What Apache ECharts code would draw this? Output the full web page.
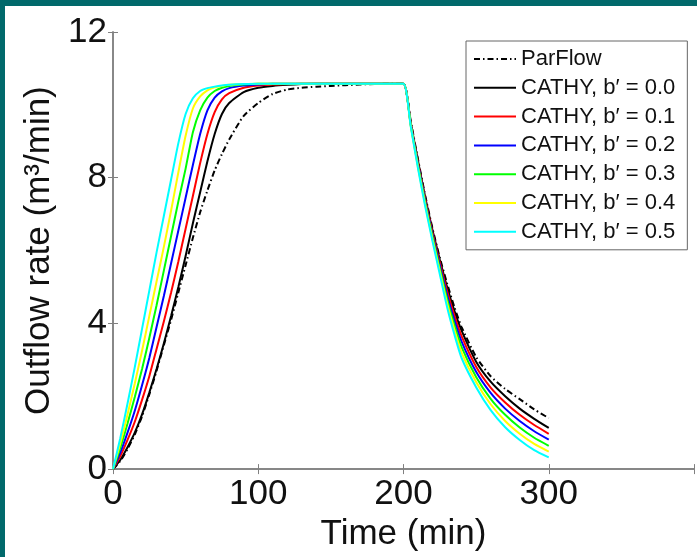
<!DOCTYPE html>
<html><head><meta charset="utf-8">
<script src="https://cdn.jsdelivr.net/npm/echarts@6/dist/echarts.min.js"></script>
<style>
html,body{margin:0;padding:0;background:#01696b;width:697px;height:557px;overflow:hidden}
#chart{position:absolute;left:5px;top:6px;width:692px;height:551px;background:#fff}
</style></head><body><div id="chart"></div>
<script>
// Time samples (min)
const time = [0,5,10,15,20,25,30,35,40,45,50,55,60,65,70,75,80,90,100,110,120,130,140,150,160,170,180,190,200,205,210,215,220,225,230,235,240,250,260,270,280,290,300];

const parflow = [0,0.22,0.55,0.95,1.45,2.05,2.7,3.4,4.1,4.85,5.6,6.35,7.05,7.65,8.2,8.65,9.05,
  9.7,10.05,10.3,10.42,10.47,10.5,10.52,10.54,10.56,10.57,10.58,
  10.58,9.55,8.5,7.5,6.6,5.8,5.1,4.45,3.9,
  3.08,2.55,2.2,1.92,1.64,1.40];
const cathy00 = [0,0.25,0.6,1.0,1.5,2.1,2.75,3.45,4.2,5.0,5.85,6.75,7.6,8.45,9.2,9.75,10.05,
  10.35,10.47,10.52,10.55,10.57,10.58,10.58,10.58,10.58,10.58,10.58,
  10.58,9.5,8.45,7.45,6.55,5.75,5.0,4.35,3.8,
  2.95,2.4,2.0,1.66,1.38,1.13];
const cathy01 = [0,0.35,0.8,1.3,1.9,2.55,3.3,4.05,4.85,5.7,6.6,7.5,8.4,9.2,9.8,10.15,10.32,
  10.47,10.53,10.56,10.57,10.58,10.58,10.58,10.58,10.58,10.58,10.58,
  10.58,9.48,8.41,7.40,6.49,5.67,4.89,4.22,3.65,
  2.81,2.24,1.83,1.49,1.21,0.97];
const cathy02 = [0,0.45,1.0,1.6,2.3,3.05,3.9,4.75,5.65,6.55,7.45,8.35,9.2,9.85,10.2,10.37,10.46,
  10.53,10.56,10.58,10.58,10.58,10.58,10.58,10.58,10.58,10.58,10.58,
  10.58,9.46,8.37,7.35,6.43,5.59,4.78,4.09,3.5,
  2.67,2.09,1.66,1.32,1.04,0.81];
const cathy03 = [0,0.58,1.25,1.98,2.75,3.6,4.5,5.45,6.4,7.35,8.25,9.25,9.85,10.2,10.38,10.47,10.52,
  10.56,10.58,10.58,10.58,10.58,10.58,10.58,10.58,10.58,10.58,10.58,
  10.58,9.44,8.33,7.3,6.37,5.51,4.67,3.96,3.35,
  2.53,1.93,1.49,1.14,0.86,0.64];
const cathy04 = [0,0.7,1.5,2.35,3.25,4.2,5.15,6.1,7.1,8.15,9.15,9.9,10.23,10.4,10.48,10.52,10.55,
  10.57,10.58,10.58,10.58,10.58,10.58,10.58,10.58,10.58,10.58,10.58,
  10.58,9.42,8.29,7.25,6.31,5.43,4.56,3.83,3.2,
  2.39,1.78,1.32,0.97,0.69,0.48];
const cathy05 = [0,0.85,1.8,2.8,3.85,4.9,5.95,6.95,7.95,8.95,9.75,10.18,10.38,10.46,10.5,10.53,10.55,
  10.57,10.58,10.58,10.58,10.58,10.58,10.58,10.58,10.58,10.58,10.58,
  10.58,9.4,8.25,7.2,6.25,5.35,4.45,3.7,3.05,
  2.25,1.62,1.15,0.8,0.52,0.32];

const seriesNames = ['ParFlow','CATHY, b\u2032 = 0.0','CATHY, b\u2032 = 0.1','CATHY, b\u2032 = 0.2','CATHY, b\u2032 = 0.3','CATHY, b\u2032 = 0.4','CATHY, b\u2032 = 0.5'];
const seriesValues = [parflow, cathy00, cathy01, cathy02, cathy03, cathy04, cathy05];
const seriesColors = ['#000000','#000000','#ff0000','#0000ff','#00ff00','#ffff00','#00ffff'];

const xTickLabels = [0,100,200,300];
const yTickLabels = [0,4,8,12];

const FONT = 'Liberation Sans, Arial, sans-serif';
const axisGray = '#808080';

const chart = echarts.init(document.getElementById('chart'));
const series = seriesValues.map((vals, i) => ({
  name: seriesNames[i],
  type: 'line',
  data: time.map((t, j) => [t, vals[j]]),
  showSymbol: false,
  symbol: 'none',
  smooth: 0.2,
  animation: false,
  lineStyle: {
    color: seriesColors[i],
    width: 2,
    type: i === 0 ? [6, 3, 1.5, 3] : 'solid'
  },
  itemStyle: { color: seriesColors[i], opacity: 0 }
}));

const boxAxisCommon = {
  axisLine: { show: true, lineStyle: { color: axisGray, width: 1.5 } },
  axisTick: { show: true, inside: true, length: 5, lineStyle: { color: axisGray, width: 1 } },
  splitLine: { show: false }
};

chart.setOption({
  animation: false,
  backgroundColor: '#ffffff',
  grid: { left: 108, top: 26, right: 1, bottom: 80, containLabel: false },
  legend: {
    orient: 'vertical',
    left: 461, top: 35,
    data: seriesNames,
    itemWidth: 42, itemHeight: 20, itemGap: 6.8,
    padding: [7, 12, 7, 7],
    backgroundColor: '#ffffff',
    borderColor: '#666666', borderWidth: 1, borderRadius: 0,
    itemStyle: { opacity: 0 },
    textStyle: { fontFamily: FONT, fontSize: 22, color: '#111', lineHeight: 20 }
  },
  xAxis: [
    Object.assign({
      type: 'value', min: 0, max: 400, interval: 100, position: 'bottom',
      name: 'Time (min)', nameLocation: 'middle', nameGap: 44,
      nameTextStyle: { fontFamily: FONT, fontSize: 35, color: '#111' },
      axisLabel: {
        fontFamily: FONT, fontSize: 35, color: '#111', margin: 8,
        formatter: v => xTickLabels.includes(v) ? String(v) : ''
      }
    }, boxAxisCommon),
    Object.assign({
      type: 'value', min: 0, max: 400, interval: 100, position: 'top',
      axisLabel: { show: false }
    }, boxAxisCommon)
  ],
  yAxis: [
    Object.assign({
      type: 'value', min: 0, max: 12, interval: 4, position: 'left',
      name: 'Outflow rate (m\u00b3/min)', nameLocation: 'middle', nameGap: 53, nameRotate: 90,
      nameTextStyle: { fontFamily: FONT, fontSize: 35, color: '#111' },
      axisLabel: {
        fontFamily: FONT, fontSize: 35, color: '#111', margin: 6,
        formatter: v => yTickLabels.includes(v) ? String(v) : ''
      }
    }, boxAxisCommon),
    Object.assign({
      type: 'value', min: 0, max: 12, interval: 4, position: 'right',
      axisLabel: { show: false }
    }, boxAxisCommon)
  ],
  series: series
});
</script></body></html>
